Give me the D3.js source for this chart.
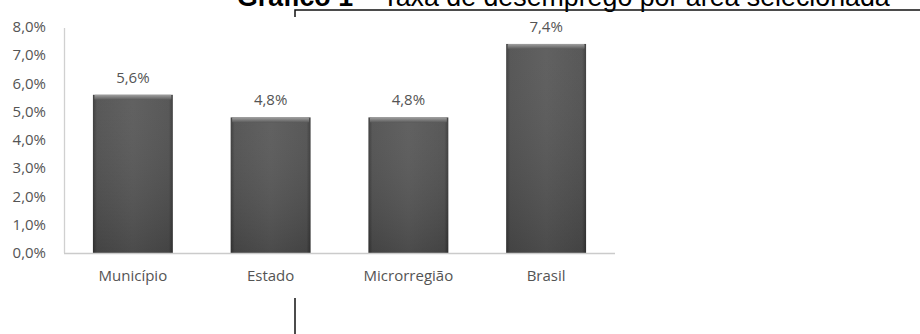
<!DOCTYPE html>
<html>
<head>
<meta charset="utf-8">
<script src="https://cdn.jsdelivr.net/npm/d3@7"></script>
<style>
  body { margin: 0; background: #fff; }
  svg { display: block; }
  .lbl { font-family: "Open Sans", sans-serif; fill: #545454; }
</style>
</head>
<body>
<svg width="920" height="334"></svg>
<script>
const categories = ["Município", "Estado", "Microrregião", "Brasil"];
const values = [5.6, 4.8, 4.8, 7.4];
const yTicks = [0, 1, 2, 3, 4, 5, 6, 7, 8];
const titleBold = "Gráfico 1";
const titleRest = " – Taxa de desemprego por área selecionada";

const svg = d3.select("svg");
const fmt = v => v.toFixed(1).replace(".", ",") + "%";

const x = d3.scaleBand().domain(categories).range([64, 615]).paddingInner(0.42).paddingOuter(0.21);
const y = d3.scaleLinear().domain([0, 8]).range([253, 27]);

// gradients for the bevelled bars
const defs = svg.append("defs");
const hg = defs.append("linearGradient").attr("id", "hg");
hg.append("stop").attr("offset", "0%").attr("stop-color", "#353535");
hg.append("stop").attr("offset", "5%").attr("stop-color", "#4e4e4e");
hg.append("stop").attr("offset", "50%").attr("stop-color", "#575757");
hg.append("stop").attr("offset", "95%").attr("stop-color", "#4e4e4e");
hg.append("stop").attr("offset", "100%").attr("stop-color", "#353535");
const vg = defs.append("linearGradient").attr("id", "vg").attr("x2", 0).attr("y2", 1);
vg.append("stop").attr("offset", "0%").attr("stop-color", "#fff").attr("stop-opacity", 0.06);
vg.append("stop").attr("offset", "100%").attr("stop-color", "#000").attr("stop-opacity", 0.14);
const tg = defs.append("linearGradient").attr("id", "tg").attr("x2", 0).attr("y2", 1);
tg.append("stop").attr("offset", "0%").attr("stop-color", "#a0a0a0");
tg.append("stop").attr("offset", "100%").attr("stop-color", "#5a5a5a");

// y axis labels
svg.append("g").selectAll("text").data(yTicks).join("text")
  .attr("class", "lbl")
  .attr("x", 46)
  .attr("y", d => y(d) + 5)
  .attr("text-anchor", "end")
  .attr("font-size", 15)
  .text(fmt);

// axis lines
svg.append("line").attr("x1", 64.5).attr("x2", 64.5).attr("y1", 28).attr("y2", 253)
  .attr("stroke", "#d0d0d0").attr("stroke-width", 1.3);

const bars = svg.append("g").selectAll("g").data(values).join("g");
bars.append("rect")
  .attr("x", (d, i) => x(categories[i]))
  .attr("y", d => y(d))
  .attr("width", x.bandwidth())
  .attr("height", d => y(0) - y(d))
  .attr("fill", "url(#hg)");
bars.append("rect")
  .attr("x", (d, i) => x(categories[i]))
  .attr("y", d => y(d))
  .attr("width", x.bandwidth())
  .attr("height", d => y(0) - y(d))
  .attr("fill", "url(#vg)");
bars.append("rect")
  .attr("x", (d, i) => x(categories[i]) + 1.5)
  .attr("y", d => y(d))
  .attr("width", x.bandwidth() - 3)
  .attr("height", 5)
  .attr("rx", 1)
  .attr("fill", "url(#tg)");

svg.append("line").attr("x1", 64).attr("x2", 615).attr("y1", 253.5).attr("y2", 253.5)
  .attr("stroke", "#cbcbcb").attr("stroke-width", 1.3);

// value labels
svg.append("g").selectAll("text").data(values).join("text")
  .attr("class", "lbl")
  .attr("x", (d, i) => x(categories[i]) + x.bandwidth() / 2)
  .attr("y", d => y(d) - 12)
  .attr("text-anchor", "middle")
  .attr("font-size", 15)
  .text(fmt);

// category labels
svg.append("g").selectAll("text").data(categories).join("text")
  .attr("class", "lbl")
  .attr("x", d => x(d) + x.bandwidth() / 2)
  .attr("y", 281)
  .attr("text-anchor", "middle")
  .attr("font-size", 15)
  .text(d => d);

// title, cut off at the top of the picture as in the source
const title = svg.append("text")
  .attr("x", 237).attr("y", 6)
  .attr("font-family", "'Liberation Sans', Arial, sans-serif")
  .attr("font-size", 22).attr("fill", "#000");
title.append("tspan").attr("font-weight", "bold").text(titleBold);
title.append("tspan").text(titleRest);
const tw = title.node().getComputedTextLength();
title.attr("font-size", 22 * 653 / tw);

// frame lines
svg.append("path").attr("d", "M295,17V10H920").attr("fill", "none")
  .attr("stroke", "#111").attr("stroke-width", 1.5);
svg.append("line").attr("x1", 295).attr("x2", 295).attr("y1", 298).attr("y2", 334)
  .attr("stroke", "#111").attr("stroke-width", 1.5);
</script>
</body>
</html>
